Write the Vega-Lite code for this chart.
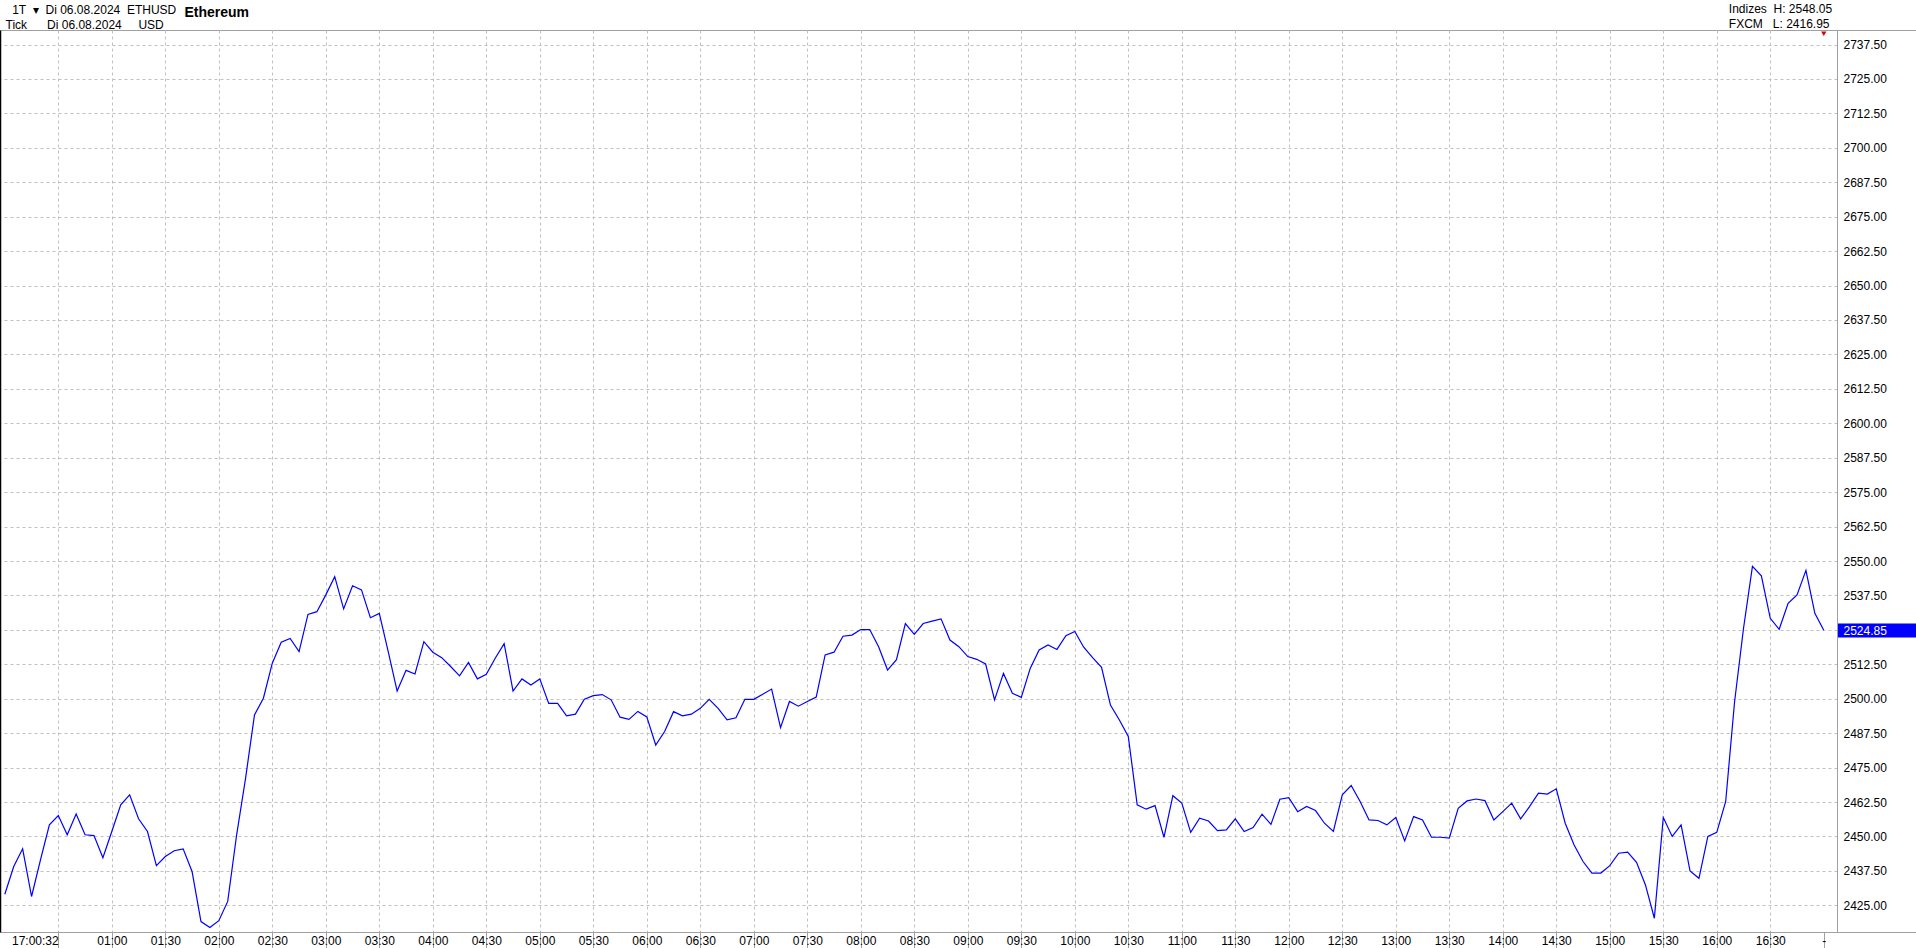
{
  "$schema": "https://vega.github.io/schema/vega-lite/v6.json",
  "width": 1837,
  "height": 902,
  "autosize": {"type": "none"},
  "padding": {"left": 0, "top": 30, "right": 79, "bottom": 16},
  "background": "white",
  "config": {
    "view": {"stroke": "#a0a0a0", "strokeWidth": 1},
    "font": "Liberation Sans",
    "axis": {"labelFont": "Liberation Sans", "titleFont": "Liberation Sans", "labelFontSize": 12, "labelColor": "black", "titleColor": "black"}
  },
  "data": {"values": [
    {"time": "2024-08-06T00:00", "price": 2429.0},
    {"time": "2024-08-06T00:05", "price": 2439.1},
    {"time": "2024-08-06T00:10", "price": 2445.5},
    {"time": "2024-08-06T00:15", "price": 2428.2},
    {"time": "2024-08-06T00:20", "price": 2441.5},
    {"time": "2024-08-06T00:25", "price": 2454.2},
    {"time": "2024-08-06T00:30", "price": 2457.6},
    {"time": "2024-08-06T00:35", "price": 2450.6},
    {"time": "2024-08-06T00:40", "price": 2458.1},
    {"time": "2024-08-06T00:45", "price": 2450.6},
    {"time": "2024-08-06T00:50", "price": 2450.3},
    {"time": "2024-08-06T00:55", "price": 2442.3},
    {"time": "2024-08-06T01:00", "price": 2451.8},
    {"time": "2024-08-06T01:05", "price": 2461.5},
    {"time": "2024-08-06T01:10", "price": 2465.1},
    {"time": "2024-08-06T01:15", "price": 2456.4},
    {"time": "2024-08-06T01:20", "price": 2451.8},
    {"time": "2024-08-06T01:25", "price": 2439.4},
    {"time": "2024-08-06T01:30", "price": 2442.7},
    {"time": "2024-08-06T01:35", "price": 2444.8},
    {"time": "2024-08-06T01:40", "price": 2445.5},
    {"time": "2024-08-06T01:45", "price": 2437.3},
    {"time": "2024-08-06T01:50", "price": 2419.1},
    {"time": "2024-08-06T01:55", "price": 2416.95},
    {"time": "2024-08-06T02:00", "price": 2419.4},
    {"time": "2024-08-06T02:05", "price": 2426.4},
    {"time": "2024-08-06T02:10", "price": 2450.6},
    {"time": "2024-08-06T02:15", "price": 2471.1},
    {"time": "2024-08-06T02:20", "price": 2494.1},
    {"time": "2024-08-06T02:25", "price": 2500.2},
    {"time": "2024-08-06T02:30", "price": 2512.9},
    {"time": "2024-08-06T02:35", "price": 2520.5},
    {"time": "2024-08-06T02:40", "price": 2521.9},
    {"time": "2024-08-06T02:45", "price": 2517.1},
    {"time": "2024-08-06T02:50", "price": 2530.6},
    {"time": "2024-08-06T02:55", "price": 2531.6},
    {"time": "2024-08-06T03:00", "price": 2537.7},
    {"time": "2024-08-06T03:05", "price": 2544.3},
    {"time": "2024-08-06T03:10", "price": 2532.6},
    {"time": "2024-08-06T03:15", "price": 2541.0},
    {"time": "2024-08-06T03:20", "price": 2539.5},
    {"time": "2024-08-06T03:25", "price": 2529.4},
    {"time": "2024-08-06T03:30", "price": 2531.0},
    {"time": "2024-08-06T03:35", "price": 2517.1},
    {"time": "2024-08-06T03:40", "price": 2502.8},
    {"time": "2024-08-06T03:45", "price": 2510.3},
    {"time": "2024-08-06T03:50", "price": 2509.0},
    {"time": "2024-08-06T03:55", "price": 2520.7},
    {"time": "2024-08-06T04:00", "price": 2516.9},
    {"time": "2024-08-06T04:05", "price": 2514.9},
    {"time": "2024-08-06T04:10", "price": 2511.7},
    {"time": "2024-08-06T04:15", "price": 2508.3},
    {"time": "2024-08-06T04:20", "price": 2513.2},
    {"time": "2024-08-06T04:25", "price": 2507.2},
    {"time": "2024-08-06T04:30", "price": 2508.9},
    {"time": "2024-08-06T04:35", "price": 2514.7},
    {"time": "2024-08-06T04:40", "price": 2520.0},
    {"time": "2024-08-06T04:45", "price": 2502.8},
    {"time": "2024-08-06T04:50", "price": 2507.2},
    {"time": "2024-08-06T04:55", "price": 2505.0},
    {"time": "2024-08-06T05:00", "price": 2507.2},
    {"time": "2024-08-06T05:05", "price": 2498.3},
    {"time": "2024-08-06T05:10", "price": 2498.3},
    {"time": "2024-08-06T05:15", "price": 2493.8},
    {"time": "2024-08-06T05:20", "price": 2494.4},
    {"time": "2024-08-06T05:25", "price": 2499.8},
    {"time": "2024-08-06T05:30", "price": 2501.1},
    {"time": "2024-08-06T05:35", "price": 2501.5},
    {"time": "2024-08-06T05:40", "price": 2499.6},
    {"time": "2024-08-06T05:45", "price": 2493.3},
    {"time": "2024-08-06T05:50", "price": 2492.5},
    {"time": "2024-08-06T05:55", "price": 2495.4},
    {"time": "2024-08-06T06:00", "price": 2493.4},
    {"time": "2024-08-06T06:05", "price": 2483.2},
    {"time": "2024-08-06T06:10", "price": 2488.1},
    {"time": "2024-08-06T06:15", "price": 2495.3},
    {"time": "2024-08-06T06:20", "price": 2493.8},
    {"time": "2024-08-06T06:25", "price": 2494.4},
    {"time": "2024-08-06T06:30", "price": 2496.5},
    {"time": "2024-08-06T06:35", "price": 2499.8},
    {"time": "2024-08-06T06:40", "price": 2496.5},
    {"time": "2024-08-06T06:45", "price": 2492.3},
    {"time": "2024-08-06T06:50", "price": 2493.1},
    {"time": "2024-08-06T06:55", "price": 2499.8},
    {"time": "2024-08-06T07:00", "price": 2499.8},
    {"time": "2024-08-06T07:05", "price": 2501.6},
    {"time": "2024-08-06T07:10", "price": 2503.5},
    {"time": "2024-08-06T07:15", "price": 2489.5},
    {"time": "2024-08-06T07:20", "price": 2499.0},
    {"time": "2024-08-06T07:25", "price": 2497.3},
    {"time": "2024-08-06T07:30", "price": 2499.0},
    {"time": "2024-08-06T07:35", "price": 2500.6},
    {"time": "2024-08-06T07:40", "price": 2515.9},
    {"time": "2024-08-06T07:45", "price": 2516.9},
    {"time": "2024-08-06T07:50", "price": 2522.7},
    {"time": "2024-08-06T07:55", "price": 2523.1},
    {"time": "2024-08-06T08:00", "price": 2525.1},
    {"time": "2024-08-06T08:05", "price": 2525.1},
    {"time": "2024-08-06T08:10", "price": 2518.9},
    {"time": "2024-08-06T08:15", "price": 2510.4},
    {"time": "2024-08-06T08:20", "price": 2514.2},
    {"time": "2024-08-06T08:25", "price": 2527.3},
    {"time": "2024-08-06T08:30", "price": 2523.4},
    {"time": "2024-08-06T08:35", "price": 2527.3},
    {"time": "2024-08-06T08:40", "price": 2528.2},
    {"time": "2024-08-06T08:45", "price": 2529.0},
    {"time": "2024-08-06T08:50", "price": 2521.3},
    {"time": "2024-08-06T08:55", "price": 2518.9},
    {"time": "2024-08-06T09:00", "price": 2515.3},
    {"time": "2024-08-06T09:05", "price": 2514.3},
    {"time": "2024-08-06T09:10", "price": 2512.6},
    {"time": "2024-08-06T09:15", "price": 2499.6},
    {"time": "2024-08-06T09:20", "price": 2509.2},
    {"time": "2024-08-06T09:25", "price": 2502.0},
    {"time": "2024-08-06T09:30", "price": 2500.5},
    {"time": "2024-08-06T09:35", "price": 2511.0},
    {"time": "2024-08-06T09:40", "price": 2517.7},
    {"time": "2024-08-06T09:45", "price": 2519.5},
    {"time": "2024-08-06T09:50", "price": 2517.9},
    {"time": "2024-08-06T09:55", "price": 2522.9},
    {"time": "2024-08-06T10:00", "price": 2524.4},
    {"time": "2024-08-06T10:05", "price": 2518.7},
    {"time": "2024-08-06T10:10", "price": 2514.9},
    {"time": "2024-08-06T10:15", "price": 2511.4},
    {"time": "2024-08-06T10:20", "price": 2497.7},
    {"time": "2024-08-06T10:25", "price": 2492.3},
    {"time": "2024-08-06T10:30", "price": 2486.3},
    {"time": "2024-08-06T10:35", "price": 2461.5},
    {"time": "2024-08-06T10:40", "price": 2459.9},
    {"time": "2024-08-06T10:45", "price": 2461.2},
    {"time": "2024-08-06T10:50", "price": 2449.7},
    {"time": "2024-08-06T10:55", "price": 2464.8},
    {"time": "2024-08-06T11:00", "price": 2462.1},
    {"time": "2024-08-06T11:05", "price": 2451.5},
    {"time": "2024-08-06T11:10", "price": 2456.6},
    {"time": "2024-08-06T11:15", "price": 2455.6},
    {"time": "2024-08-06T11:20", "price": 2452.1},
    {"time": "2024-08-06T11:25", "price": 2452.4},
    {"time": "2024-08-06T11:30", "price": 2456.4},
    {"time": "2024-08-06T11:35", "price": 2451.8},
    {"time": "2024-08-06T11:40", "price": 2453.2},
    {"time": "2024-08-06T11:45", "price": 2458.1},
    {"time": "2024-08-06T11:50", "price": 2454.4},
    {"time": "2024-08-06T11:55", "price": 2463.5},
    {"time": "2024-08-06T12:00", "price": 2464.1},
    {"time": "2024-08-06T12:05", "price": 2459.0},
    {"time": "2024-08-06T12:10", "price": 2460.9},
    {"time": "2024-08-06T12:15", "price": 2459.4},
    {"time": "2024-08-06T12:20", "price": 2454.8},
    {"time": "2024-08-06T12:25", "price": 2451.8},
    {"time": "2024-08-06T12:30", "price": 2465.1},
    {"time": "2024-08-06T12:35", "price": 2468.5},
    {"time": "2024-08-06T12:40", "price": 2462.7},
    {"time": "2024-08-06T12:45", "price": 2456.0},
    {"time": "2024-08-06T12:50", "price": 2455.8},
    {"time": "2024-08-06T12:55", "price": 2454.2},
    {"time": "2024-08-06T13:00", "price": 2456.9},
    {"time": "2024-08-06T13:05", "price": 2448.4},
    {"time": "2024-08-06T13:10", "price": 2457.2},
    {"time": "2024-08-06T13:15", "price": 2456.0},
    {"time": "2024-08-06T13:20", "price": 2449.7},
    {"time": "2024-08-06T13:25", "price": 2449.7},
    {"time": "2024-08-06T13:30", "price": 2449.4},
    {"time": "2024-08-06T13:35", "price": 2460.2},
    {"time": "2024-08-06T13:40", "price": 2462.9},
    {"time": "2024-08-06T13:45", "price": 2463.6},
    {"time": "2024-08-06T13:50", "price": 2463.0},
    {"time": "2024-08-06T13:55", "price": 2456.0},
    {"time": "2024-08-06T14:00", "price": 2459.0},
    {"time": "2024-08-06T14:05", "price": 2462.1},
    {"time": "2024-08-06T14:10", "price": 2456.4},
    {"time": "2024-08-06T14:15", "price": 2460.8},
    {"time": "2024-08-06T14:20", "price": 2465.7},
    {"time": "2024-08-06T14:25", "price": 2465.4},
    {"time": "2024-08-06T14:30", "price": 2467.3},
    {"time": "2024-08-06T14:35", "price": 2454.8},
    {"time": "2024-08-06T14:40", "price": 2446.9},
    {"time": "2024-08-06T14:45", "price": 2440.9},
    {"time": "2024-08-06T14:50", "price": 2436.7},
    {"time": "2024-08-06T14:55", "price": 2436.7},
    {"time": "2024-08-06T15:00", "price": 2439.4},
    {"time": "2024-08-06T15:05", "price": 2443.9},
    {"time": "2024-08-06T15:10", "price": 2444.3},
    {"time": "2024-08-06T15:15", "price": 2440.6},
    {"time": "2024-08-06T15:20", "price": 2432.4},
    {"time": "2024-08-06T15:25", "price": 2420.3},
    {"time": "2024-08-06T15:30", "price": 2456.9},
    {"time": "2024-08-06T15:35", "price": 2450.0},
    {"time": "2024-08-06T15:40", "price": 2454.2},
    {"time": "2024-08-06T15:45", "price": 2437.5},
    {"time": "2024-08-06T15:50", "price": 2434.8},
    {"time": "2024-08-06T15:55", "price": 2450.0},
    {"time": "2024-08-06T16:00", "price": 2451.5},
    {"time": "2024-08-06T16:05", "price": 2462.7},
    {"time": "2024-08-06T16:10", "price": 2499.0},
    {"time": "2024-08-06T16:15", "price": 2525.6},
    {"time": "2024-08-06T16:20", "price": 2548.05},
    {"time": "2024-08-06T16:25", "price": 2544.6},
    {"time": "2024-08-06T16:30", "price": 2529.2},
    {"time": "2024-08-06T16:35", "price": 2525.2},
    {"time": "2024-08-06T16:40", "price": 2534.6},
    {"time": "2024-08-06T16:45", "price": 2537.7},
    {"time": "2024-08-06T16:50", "price": 2546.6},
    {"time": "2024-08-06T16:55", "price": 2531.0},
    {"time": "2024-08-06T17:00", "price": 2524.85}
  ]},
  "resolve": {"axis": {"y": "independent"}},
  "layer": [
    {
      "mark": {"type": "line", "color": "#0000ff", "strokeWidth": 1.2, "interpolate": "linear"},
      "encoding": {
        "x": {
          "field": "time", "type": "temporal",
          "scale": {"domain": [
            {"year": 2024, "month": 8, "date": 5, "hours": 23, "minutes": 57, "seconds": 18},
            {"year": 2024, "month": 8, "date": 6, "hours": 17, "minutes": 7, "seconds": 25}
          ]},
          "axis": {
            "orient": "bottom",
            "values": [
              {"year": 2024, "month": 8, "date": 6, "hours": 0, "minutes": 0},
              {"year": 2024, "month": 8, "date": 6, "hours": 0, "minutes": 30},
              {"year": 2024, "month": 8, "date": 6, "hours": 1, "minutes": 0},
              {"year": 2024, "month": 8, "date": 6, "hours": 1, "minutes": 30},
              {"year": 2024, "month": 8, "date": 6, "hours": 2, "minutes": 0},
              {"year": 2024, "month": 8, "date": 6, "hours": 2, "minutes": 30},
              {"year": 2024, "month": 8, "date": 6, "hours": 3, "minutes": 0},
              {"year": 2024, "month": 8, "date": 6, "hours": 3, "minutes": 30},
              {"year": 2024, "month": 8, "date": 6, "hours": 4, "minutes": 0},
              {"year": 2024, "month": 8, "date": 6, "hours": 4, "minutes": 30},
              {"year": 2024, "month": 8, "date": 6, "hours": 5, "minutes": 0},
              {"year": 2024, "month": 8, "date": 6, "hours": 5, "minutes": 30},
              {"year": 2024, "month": 8, "date": 6, "hours": 6, "minutes": 0},
              {"year": 2024, "month": 8, "date": 6, "hours": 6, "minutes": 30},
              {"year": 2024, "month": 8, "date": 6, "hours": 7, "minutes": 0},
              {"year": 2024, "month": 8, "date": 6, "hours": 7, "minutes": 30},
              {"year": 2024, "month": 8, "date": 6, "hours": 8, "minutes": 0},
              {"year": 2024, "month": 8, "date": 6, "hours": 8, "minutes": 30},
              {"year": 2024, "month": 8, "date": 6, "hours": 9, "minutes": 0},
              {"year": 2024, "month": 8, "date": 6, "hours": 9, "minutes": 30},
              {"year": 2024, "month": 8, "date": 6, "hours": 10, "minutes": 0},
              {"year": 2024, "month": 8, "date": 6, "hours": 10, "minutes": 30},
              {"year": 2024, "month": 8, "date": 6, "hours": 11, "minutes": 0},
              {"year": 2024, "month": 8, "date": 6, "hours": 11, "minutes": 30},
              {"year": 2024, "month": 8, "date": 6, "hours": 12, "minutes": 0},
              {"year": 2024, "month": 8, "date": 6, "hours": 12, "minutes": 30},
              {"year": 2024, "month": 8, "date": 6, "hours": 13, "minutes": 0},
              {"year": 2024, "month": 8, "date": 6, "hours": 13, "minutes": 30},
              {"year": 2024, "month": 8, "date": 6, "hours": 14, "minutes": 0},
              {"year": 2024, "month": 8, "date": 6, "hours": 14, "minutes": 30},
              {"year": 2024, "month": 8, "date": 6, "hours": 15, "minutes": 0},
              {"year": 2024, "month": 8, "date": 6, "hours": 15, "minutes": 30},
              {"year": 2024, "month": 8, "date": 6, "hours": 16, "minutes": 0},
              {"year": 2024, "month": 8, "date": 6, "hours": 16, "minutes": 30},
              {"year": 2024, "month": 8, "date": 6, "hours": 17, "minutes": 0}
            ],
            "labelExpr": "(hours(datum.value)==0 && minutes(datum.value)==0) ? '\u200b\u00a0\u00a017:00:32' : ((hours(datum.value)==0 && minutes(datum.value)==30) ? '' : (hours(datum.value)==17 ? '-' : timeFormat(datum.value, '%H:%M')))",
            "labelFlush": false,
            "labelOverlap": false,
            "labelBaseline": "alphabetic",
            "labelPadding": -4,
            "labelFontSize": 12,
            "labelAlign": {"condition": {"test": "hours(datum.value)==0 && minutes(datum.value)==0", "value": "left"}, "value": "center"},
            "tickSize": 16,
            "tickColor": {"condition": {"test": "hours(datum.value)==0 && minutes(datum.value)==0", "value": "transparent"}, "value": "#a0a0a0"},
            "grid": true,
            "gridDash": [3, 3],
            "gridColor": {"condition": {"test": "(hours(datum.value)==0 && minutes(datum.value)==0) || hours(datum.value)==17", "value": "transparent"}, "value": "#c0c0c0"},
            "domain": false,
            "title": "Ethereum",
            "titleX": 184,
            "titleY": -915.5,
            "titleAlign": "left",
            "titleBaseline": "alphabetic",
            "titleAngle": 0,
            "titleFontSize": 14,
            "titleFontWeight": "bold"
          }
        },
        "y": {
          "field": "price", "type": "quantitative",
          "scale": {"domain": [2415.31, 2742.78], "zero": false, "nice": false},
          "axis": {
            "orient": "right",
            "values": [2415.31, 2425, 2437.5, 2450, 2462.5, 2475, 2487.5, 2500, 2512.5, 2525, 2537.5, 2550, 2562.5, 2575, 2587.5, 2600, 2612.5, 2625, 2637.5, 2650, 2662.5, 2675, 2687.5, 2700, 2712.5, 2725, 2737.5, 2742.78, 2524.85],
            "labelExpr": "(datum.value < 2420 || datum.value > 2740 || datum.value == 2525) ? '' : format(datum.value, '.2f')",
            "labelOverlap": false,
            "labelFlush": false,
            "labelBaseline": "middle",
            "labelFontSize": 12,
            "labelPadding": -73,
            "labelColor": {"condition": {"test": "datum.value > 2524.5 && datum.value < 2524.9", "value": "white"}, "value": "black"},
            "tickSize": 79,
            "tickWidth": {"condition": {"test": "datum.value > 2524.5 && datum.value < 2524.9", "value": 14}, "value": 1},
            "tickColor": {"condition": [
              {"test": "datum.value > 2524.5 && datum.value < 2524.9", "value": "#0000ff"},
              {"test": "datum.value < 2420 || datum.value > 2740", "value": "#a0a0a0"}
            ], "value": "transparent"},
            "grid": true,
            "gridDash": [3, 3],
            "gridColor": {"condition": {"test": "(datum.value > 2524.5 && datum.value < 2524.9) || datum.value < 2420 || datum.value > 2740", "value": "transparent"}, "value": "#c0c0c0"},
            "domain": true,
            "domainColor": "#a0a0a0",
            "title": ["Indizes\u00a0\u00a0H: 2548.05", "FXCM\u00a0\u00a0\u00a0L: 2416.95"],
            "titleX": -108.7,
            "titleY": -17.5,
            "titleAlign": "left",
            "titleBaseline": "alphabetic",
            "titleAngle": 0,
            "titleFontSize": 12,
            "titleFontWeight": "normal",
            "titleLineHeight": 15
          }
        }
      }
    },
    {
      "transform": [{"filter": "hours(datum.time) == 17"}],
      "mark": {"type": "point", "shape": "triangle-down", "filled": true, "color": "#e00000", "size": 28, "opacity": 1},
      "encoding": {
        "x": {"field": "time", "type": "temporal"},
        "y": {"datum": 2741.4, "type": "quantitative", "axis": null}
      }
    },
    {
      "mark": {"type": "line", "opacity": 0},
      "encoding": {
        "x": {"field": "time", "type": "temporal"},
        "y": {
          "field": "price", "type": "quantitative",
          "axis": {
            "orient": "left",
            "labels": false,
            "ticks": false,
            "grid": false,
            "domain": true,
            "domainColor": "black",
            "domainWidth": 1.5,
            "title": ["\u200b\u00a0\u00a01T\u00a0\u00a0\u25be\u00a0\u00a0Di 06.08.2024\u00a0\u00a0ETHUSD", "Tick\u00a0\u00a0\u00a0\u00a0\u00a0\u00a0Di 06.08.2024\u00a0\u00a0\u00a0\u00a0\u00a0USD"],
            "titleX": 5,
            "titleY": -16.5,
            "titleAlign": "left",
            "titleBaseline": "alphabetic",
            "titleAngle": 0,
            "titleFontSize": 12,
            "titleFontWeight": "normal",
            "titleLineHeight": 15
          }
        }
      }
    }
  ]
}
